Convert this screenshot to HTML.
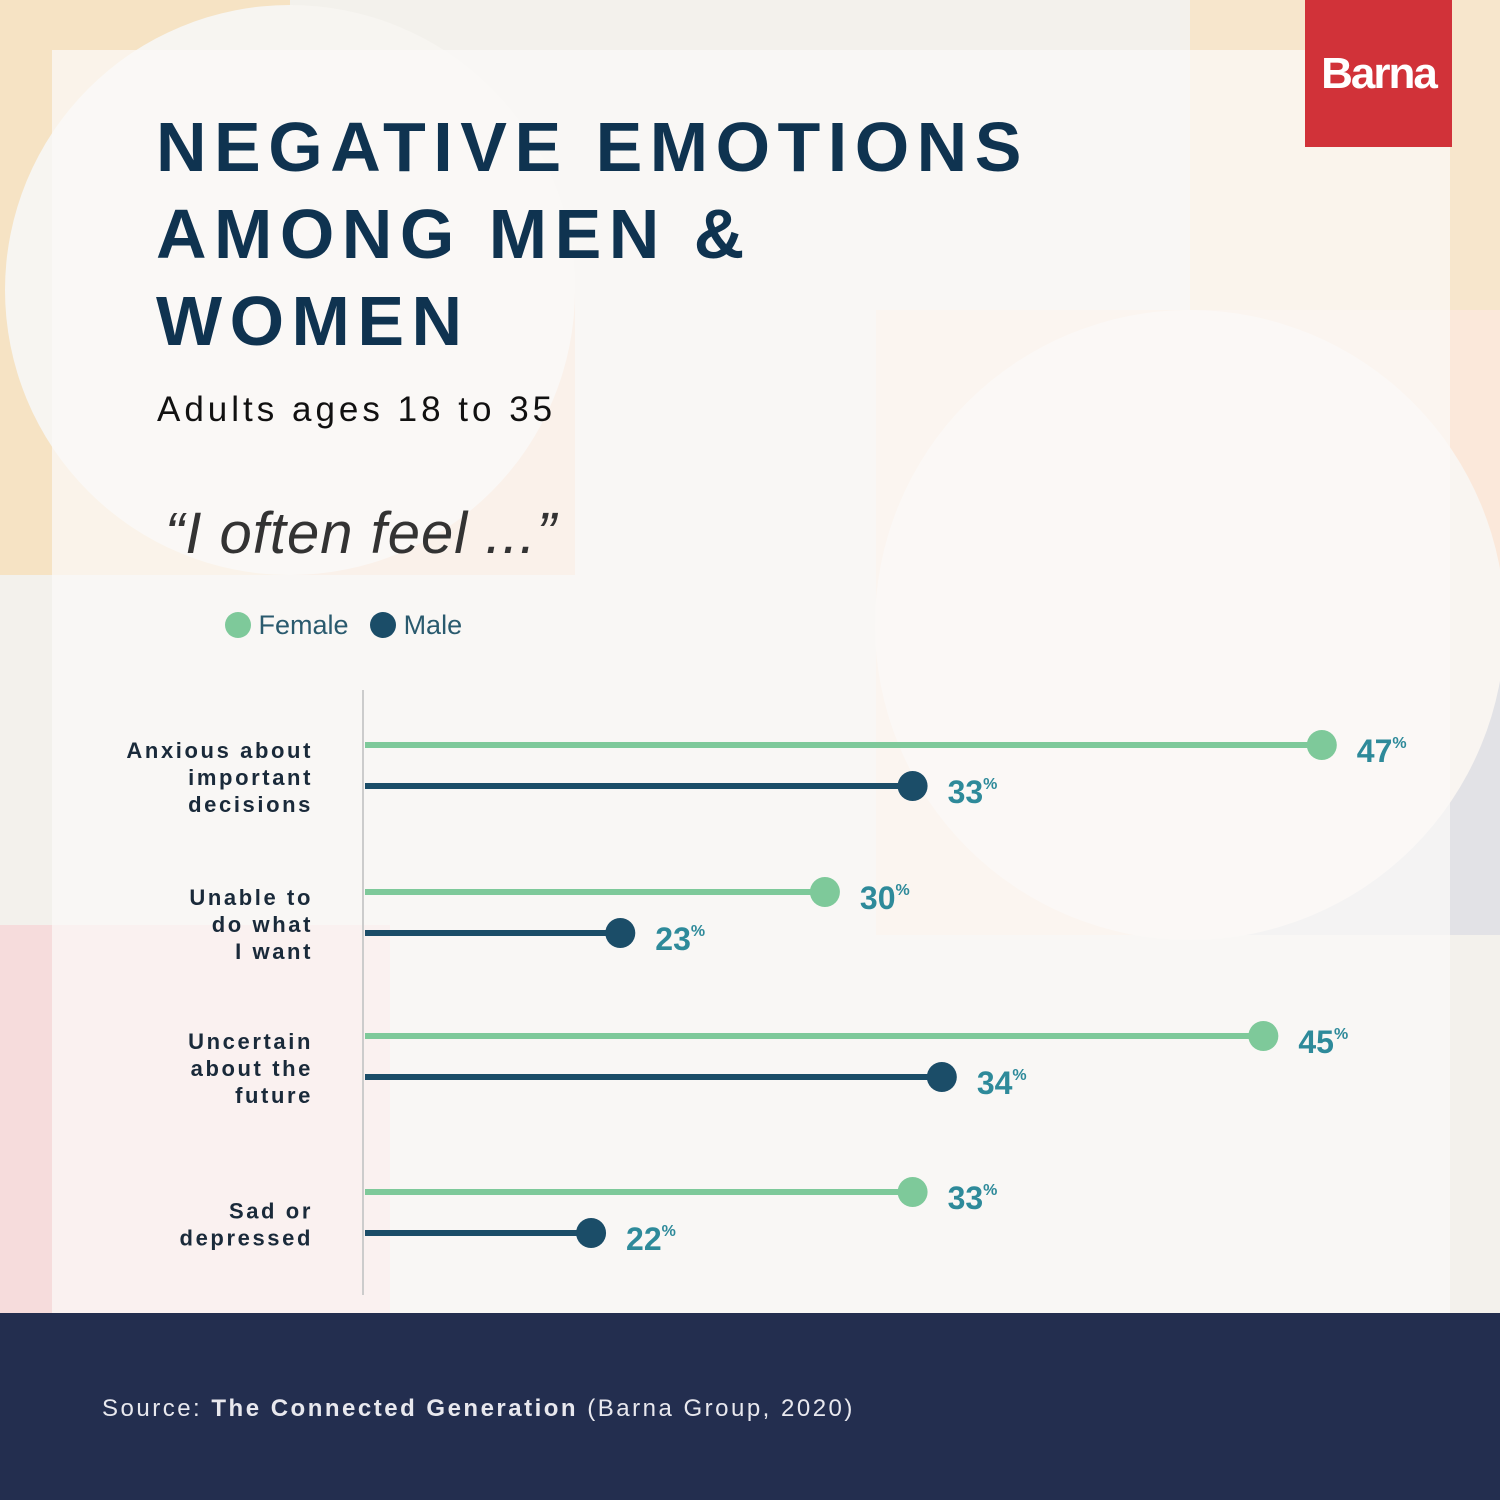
<!DOCTYPE html>
<html><head><meta charset="utf-8"><style>
body{margin:0;width:1500px;height:1500px;position:relative;overflow:hidden;background:#f3f1ec;font-family:"Liberation Sans",sans-serif}
.abs{position:absolute}
</style></head><body>
<svg class="abs" style="left:0;top:0" width="1500" height="1500">
<rect x="0" y="0" width="290" height="575" fill="#f6e3c4"/>
<rect x="290" y="290" width="285" height="285" fill="#f8d9c6"/>
<rect x="1190" y="0" width="310" height="310" fill="#f7e6cc"/>
<rect x="876" y="310" width="624" height="625" fill="#fbe8da"/>
<rect x="1190" y="625" width="310" height="310" fill="#e2e2e6"/>
<circle cx="290" cy="290" r="285" fill="#f7f5f1"/>
<circle cx="1190" cy="625" r="315" fill="#f9f5f1"/>
<rect x="0" y="925" width="390" height="390" fill="#f6dcdc"/>
<rect x="52" y="50" width="1398" height="1263" fill="#fbfaf8" opacity="0.72"/>
<rect x="0" y="1313" width="1500" height="187" fill="#232e4f"/>
</svg>
<div class="abs" style="left:1305px;top:0;width:147px;height:147px;background:#d13239;color:#fff;font-weight:bold;font-size:44px;letter-spacing:-2px;text-align:center;line-height:147px">Barna</div>
<div class="abs" style="left:156px;top:104px;color:#0f3350;font-weight:bold;font-size:70px;letter-spacing:7.5px;line-height:87px">NEGATIVE EMOTIONS<br>AMONG MEN &amp;<br>WOMEN</div>
<div class="abs" style="left:157px;top:390px;color:#111;font-size:35px;letter-spacing:4px">Adults ages 18 to 35</div>
<div class="abs" style="left:165px;top:500px;color:#333;font-style:italic;font-size:58px;letter-spacing:1px">“I often feel ...”</div>
<div class="abs" style="left:225px;top:610px;font-size:27px;color:#2a5a6e">
<span><span style="display:inline-block;width:26px;height:26px;border-radius:50%;background:#7ec99a;vertical-align:-4px"></span> Female</span>
<span style="margin-left:14px"><span style="display:inline-block;width:26px;height:26px;border-radius:50%;background:#1b4d68;vertical-align:-4px"></span> Male</span></div>
<svg class="abs" id="chart" style="left:0;top:0" width="1500" height="1313"></svg>
<div class="abs" style="left:102px;top:1395px;color:#e8e8ee;font-size:24px;letter-spacing:2.5px">Source: <b>The Connected Generation</b> (Barna Group, 2020)</div>
<script>
const categories=[["Anxious about","important","decisions"],["Unable to","do what","I want"],["Uncertain","about the","future"],["Sad or","depressed"]];
const female=[47,30,45,33];
const male=[33,23,34,22];
const rowY=[765,912,1056,1212];
const svg=document.getElementById('chart');
const NS='http://www.w3.org/2000/svg';
const xS=v=>-52+v*29.23;
function mk(t,a){const e=document.createElementNS(NS,t);for(const k in a)e.setAttribute(k,a[k]);svg.appendChild(e);return e;}
const ax=mk('line',{x1:363,y1:690,x2:363,y2:1295,stroke:'#ccc',"stroke-width":2});


categories.forEach((c,i)=>{
  const cy=rowY[i];
  const n=c.length;
  c.forEach((s,j)=>{
    const t=mk('text',{x:313,y:cy+(j-(n-1)/2)*27+20,"text-anchor":"end","font-size":22,"font-weight":"bold","letter-spacing":2.6,fill:"#1a2a3a"});
    t.textContent=s;
    
    
  });
  [[female[i],'#7ec99a',-20,'female'],[male[i],'#1b4d68',21,'male']].forEach(([v,col,dy,nm])=>{
    const y=cy+dy,x=xS(v);
    const l=mk('line',{x1:365,y1:y,x2:x,y2:y,stroke:col,"stroke-width":6});
    
    
    const d=mk('circle',{cx:x,cy:y,r:15,fill:col});
    
    
    const t=mk('text',{x:x+35,y:y+17,"font-size":32,"font-weight":"bold",fill:'#2e8a9a'});
    t.innerHTML=v+'<tspan font-size="16" dy="-14">%</tspan>';
    
    
  });
});
</script>
</body></html>
